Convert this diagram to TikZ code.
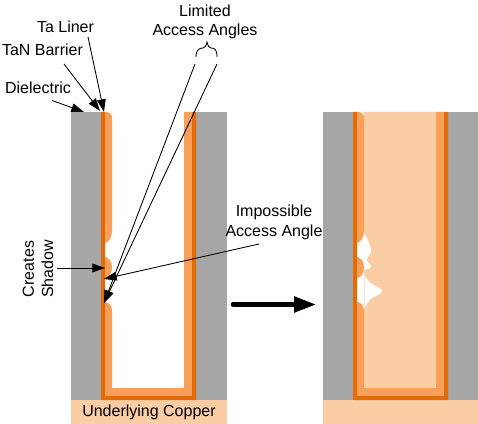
\documentclass[tikz,border=0pt]{standalone}
\usepackage{fontspec}
\setmainfont{Liberation Sans}
\usetikzlibrary{arrows.meta,positioning}
\definecolor{viaGrey}{HTML}{A6A6A6}
\definecolor{viaBarrier}{HTML}{E36C0A}
\definecolor{viaLiner}{HTML}{F79646}
\definecolor{viaCopper}{HTML}{FBCDA5}
\tikzset{
  dielectric/.style={fill=viaGrey, draw=none},
  barrier/.style={fill=viaBarrier, draw=none},
  liner/.style={fill=viaLiner!90!white, draw=none},
  copper/.style={fill=viaCopper, draw=none},
  callout/.style={font=\fontsize{12pt}{14.5pt}\selectfont, align=center, inner sep=0pt},
  pointer/.style={draw=black, line width=0.65pt, -{Triangle[length=9.5pt,width=6.5pt]}},
  bigarrow/.style={draw=black, line width=3.4pt, line cap=round, -{Triangle[length=16.5pt,width=11.5pt]}},
}
% the liner wall with its notch and bump, as one path piece
\newcommand{\linerwall}[1]{
  (#1+105,112) -- (#1+107,112) to[out=0,in=120] (#1+112,116) -- (#1+112,230)
  .. controls (#1+112,238) and (#1+108,243) .. (#1+105,243) -- (#1+105,257)
  .. controls (#1+109,257) and (#1+112,262) .. (#1+112,267)
  .. controls (#1+112,273) and (#1+109,278) .. (#1+105,278) -- (#1+105,302)
  .. controls (#1+109,302) and (#1+112,306) .. (#1+112,311)
}
\begin{document}
\begin{tikzpicture}[x=0.75pt,y=-0.75pt]
\useasboundingbox (0,0) rectangle (478,424);

% ---- left via
\fill[copper] (71,400) rectangle (227,424);
\fill[dielectric] (71,112) rectangle (101,400);
\fill[dielectric] (196,112) rectangle (227,400);
\fill[liner] \linerwall{0} -- (112,388) -- (184,388) -- (184,112) -- (192,112) -- (192,396) -- (105,396) -- cycle;
\fill[barrier] (101,112) -- (105,112) -- (105,396) -- (192,396) -- (192,112) -- (196,112) -- (196,400) -- (101,400) -- cycle;

% ---- right via
\fill[copper] (323,400) rectangle (478,424);
\fill[dielectric] (323,112) rectangle (353,400);
\fill[dielectric] (448,112) rectangle (478,400);
\fill[copper] (364,112) -- (437,112) -- (437,388) -- (364,388) -- (364,308)
  .. controls (368,304) and (369,300) .. (372,298)
  .. controls (376,296) and (382,294) .. (382,291)
  .. controls (382,288) and (375,286) .. (371,283)
  .. controls (368,281) and (367,278) .. (364,275) -- (364,270)
  .. controls (368,269) and (371,269) .. (371,266)
  .. controls (371,263) and (367,263) .. (367,260)
  .. controls (367,257) and (371,255) .. (371,251)
  .. controls (371,244) and (367,238) .. (364,233) -- cycle;
\draw[viaCopper!50, line width=0.3pt] (364,275) -- (364,308);
\fill[liner] \linerwall{252} -- (364,388) -- (436,388) -- (436,112) -- (444,112) -- (444,396) -- (357,396) -- cycle;
\fill[barrier] (353,112) -- (357,112) -- (357,396) -- (444,396) -- (444,112) -- (448,112) -- (448,400) -- (353,400) -- cycle;

% ---- labels
\node[callout] (TALINER) at (65.5,26.5) {Ta Liner};
\node[callout] (TANBAR) at (42.5,50) {TaN Barrier};
\node[callout] (DIEL) at (38,88) {Dielectric};
\node[callout] (LIMITED) at (205,22) {Limited\\Access Angles};
\node[callout] (IMPOSS) at (274,222.5) {Impossible\\Access Angle};
\node[callout, rotate=90] (SHADOW) at (38,269) {Creates\\Shadow};
\node[callout] (COPPER) at (149,412) {Underlying Copper};

% ---- free ends
\coordinate (DIELFROM) at (52,100.5);
\coordinate (DIELTIP) at (84,112);
\coordinate (TANFROM) at (64,64);
\coordinate (TANTIP) at (100,111);
\coordinate (TAFROM) at (88,37);
\coordinate (TATIP) at (104,112);
\coordinate (LIMFROMA) at (195,64);
\coordinate (LIMFROMB) at (217,64);
\coordinate (LIMTIP) at (104,303);
\coordinate (IMPFROM) at (259,244);
\coordinate (IMPTIP) at (104,279);
\coordinate (SHADFROM) at (57,268);
\coordinate (SHADTIP) at (105,268);
\coordinate (BRACEL) at (196,57);
\coordinate (BRACER) at (217,57);
\coordinate (BIGFROM) at (233,304.5);
\coordinate (BIGTIP) at (316,304.5);

% ---- pointers
\draw[pointer] (DIELFROM) -- (DIELTIP);
\draw[pointer] (TANFROM) -- (TANTIP);
\draw[pointer] (TAFROM) -- (TATIP);
\draw[pointer] (LIMFROMA) -- (LIMTIP);
\draw[pointer] (LIMFROMB) -- (LIMTIP);
\draw[pointer] (IMPFROM) -- (IMPTIP);
\draw[pointer] (SHADFROM) -- (SHADTIP);
\draw[line width=0.65pt] (BRACEL) .. controls (196,50) and (199,48) .. (203,48)
  .. controls (205,48) and (206,46) .. (207,42)
  .. controls (208,46) and (209,48) .. (211,48)
  .. controls (215,48) and (217,50) .. (BRACER);
\draw[bigarrow] (BIGFROM) -- (BIGTIP);

\end{tikzpicture}
\end{document}
